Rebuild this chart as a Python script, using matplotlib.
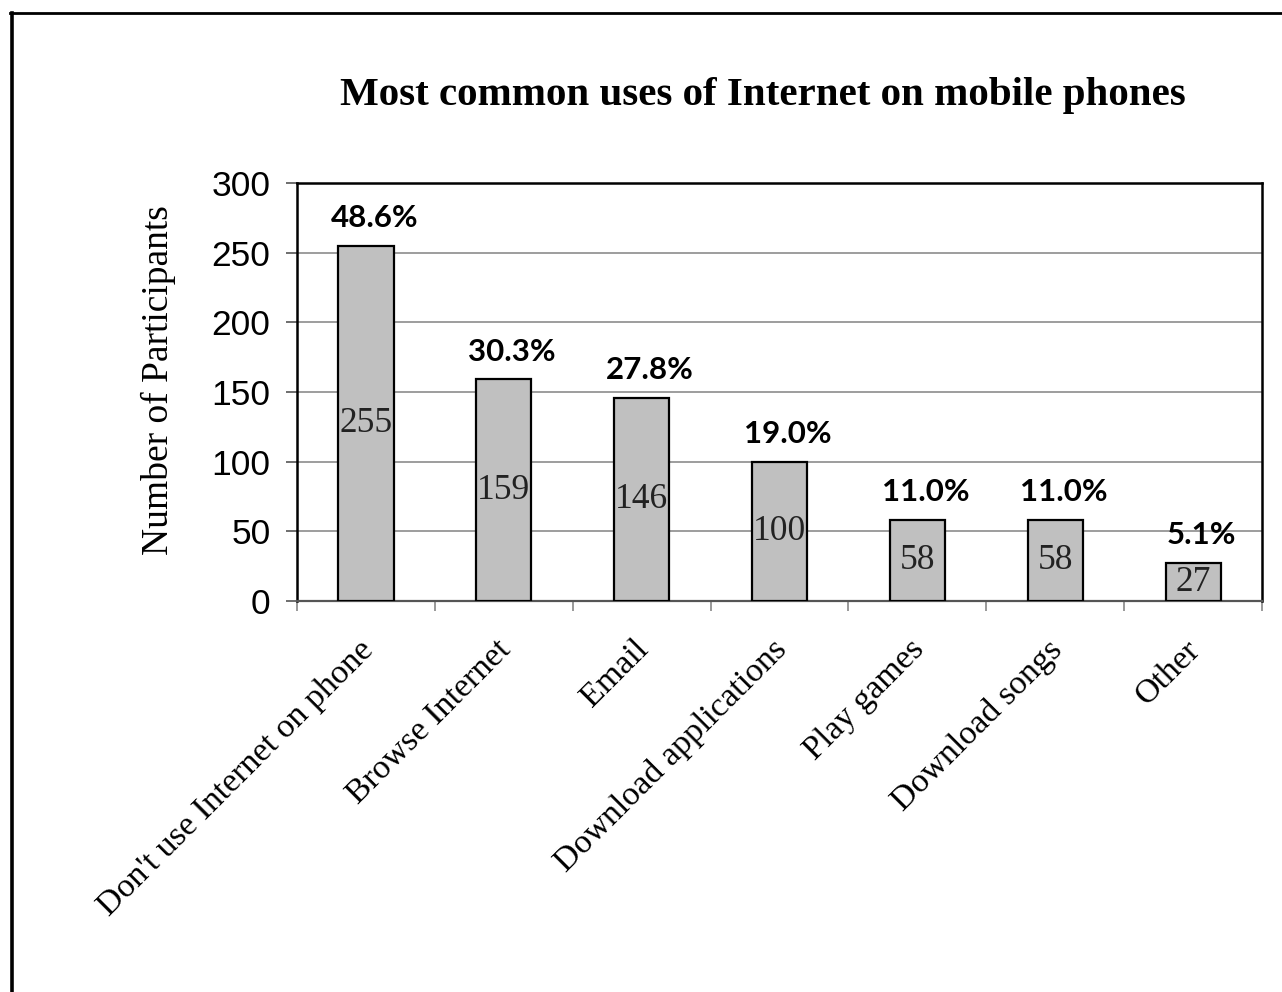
import matplotlib
matplotlib.use("Agg")
import matplotlib.pyplot as plt
from matplotlib.lines import Line2D
import numpy as np

categories = ["Don't use Internet on phone", "Browse Internet", "Email",
              "Download applications", "Play games", "Download songs", "Other"]
counts = [255, 159, 146, 100, 58, 58, 27]
percents = ["48.6%", "30.3%", "27.8%", "19.0%", "11.0%", "11.0%", "5.1%"]
yticks = [0, 50, 100, 150, 200, 250, 300]

SERIF = "Liberation Serif"
SANS = "Liberation Sans"

fig = plt.figure(figsize=(12.82, 9.92), dpi=100)
ax = fig.add_axes([297 / 1282, 1 - 601 / 992, 965 / 1282, 418 / 992])

x = np.arange(len(categories))
bars = ax.bar(x, counts, width=0.4, color="#c0c0c0", edgecolor="black",
              linewidth=1.6, zorder=3)

ax.set_xlim(-0.5, len(categories) - 0.5)
ax.set_ylim(0, 300)
ax.set_yticks(yticks)
ax.set_yticklabels([str(v) for v in yticks], fontfamily=SANS, fontsize=25.5)
ax.yaxis.grid(True, color="#8c8c8c", linewidth=1.2, zorder=0)
ax.tick_params(axis="y", direction="out", length=8, width=1.2, color="#555555", pad=11)

# category labels sit between boundary ticks
ax.set_xticks(np.arange(len(categories) + 1) - 0.5)
ax.set_xticklabels([])
ax.tick_params(axis="x", direction="out", length=7, width=1.2, color="#888888")
for i, name in enumerate(categories):
    ax.annotate(name, xy=(i, 0), xytext=(-6, -24), textcoords="offset points",
                rotation=45, ha="right", va="top", rotation_mode="anchor",
                fontfamily=SERIF, fontsize=24.5, annotation_clip=False)

for s in ["top", "right", "left"]:
    ax.spines[s].set_color("black")
    ax.spines[s].set_linewidth(1.8)
ax.spines["bottom"].set_color("#555555")
ax.spines["bottom"].set_linewidth(1.6)

for b, c, p in zip(bars, counts, percents):
    cx = b.get_x() + b.get_width() / 2
    ax.text(cx, c / 2, str(c), ha="center", va="center", fontfamily=SERIF,
            fontsize=25.5, color="#222222", zorder=4)
    ax.annotate(p, xy=(cx, c), xytext=(6, 10), textcoords="offset points",
                ha="center", va="bottom", fontfamily="Lato", fontweight="bold",
                fontsize=22.5)

ax.set_ylabel("Number of Participants", fontfamily=SERIF, fontsize=27)
ax.yaxis.set_label_coords(-0.125, 0.529)

fig.text(763 / 1282, 1 - 95 / 992, "Most common uses of Internet on mobile phones",
         ha="center", va="center", fontfamily=SERIF, fontweight="bold", fontsize=29.5)

# outer frame, only left and top edges fall inside the picture
fig.add_artist(Line2D([11.5 / 1282, 11.5 / 1282], [0, 1 - 13 / 992], color="black",
                      linewidth=2.6, transform=fig.transFigure))
fig.add_artist(Line2D([10 / 1282, 1], [1 - 13 / 992, 1 - 13 / 992], color="black",
                      linewidth=2.0, transform=fig.transFigure))

fig.savefig("out.png", dpi=100)
